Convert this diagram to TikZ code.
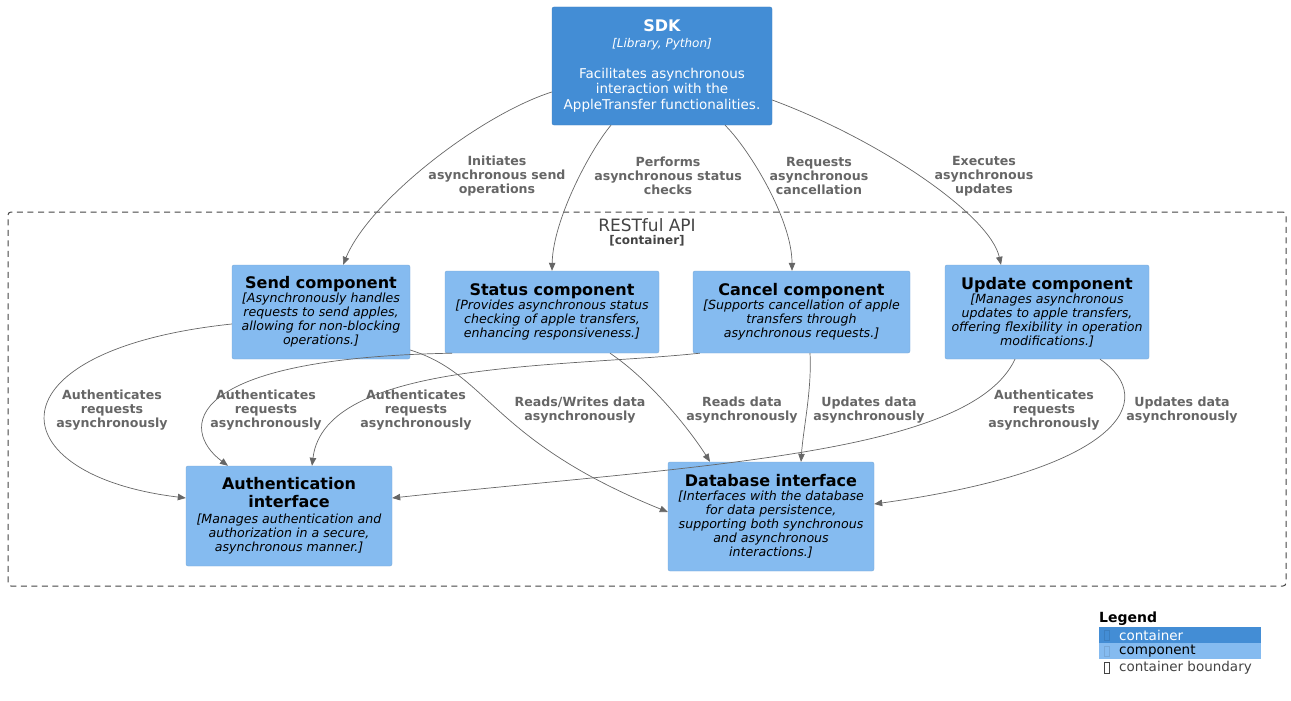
\documentclass[tikz,border=0pt]{standalone}
\usepackage{fontspec}
\setmainfont{DejaVu Sans}
\usetikzlibrary{arrows.meta,calc}
\definecolor{c4container}{HTML}{438DD5}
\definecolor{c4containerline}{HTML}{3C7FC0}
\definecolor{c4component}{HTML}{85BBF0}
\definecolor{c4componentline}{HTML}{78A8D8}
\definecolor{reledge}{HTML}{666666}
\definecolor{reltext}{HTML}{666666}
\definecolor{boundaryline}{HTML}{444444}
\tikzset{
    container/.style={rectangle, fill=c4container, draw=c4containerline, rounded corners=2pt,
        text=white, align=center, inner sep=0pt, font=\fontsize{13.5}{15.5}\selectfont},
    component/.style={rectangle, fill=c4component, draw=c4componentline, rounded corners=2pt,
        text=black, align=center, inner sep=0pt, font=\fontsize{12.6}{14}\selectfont\itshape},
    rel/.style={draw=reledge, line width=0.7pt, -{Triangle[length=8pt,width=6.5pt]}},
    rellabel/.style={text=reltext, align=center, font=\fontsize{12.6}{14}\selectfont\bfseries},
}
\newcommand{\ctitle}[1]{{\fontsize{16}{19}\selectfont\bfseries\upshape #1}}

\begin{document}
\begin{tikzpicture}[x=1pt, y=-1pt]
    \useasboundingbox (0,0) rectangle (1291,701);

    % Boundary
    \node[draw=boundaryline, dash pattern=on 6pt off 4.5pt, line width=1pt, rounded corners=3pt,
        minimum width=1278pt, minimum height=374pt, inner sep=0pt] (api) at (647,399) {};
    \node[text=boundaryline, font=\fontsize{17}{19}\selectfont] (apititle) at (647,225) {RESTful API};
    \node[text=boundaryline, font=\fontsize{12}{14}\selectfont\bfseries] (apitype) at (647,241) {[container]};

    % Container
    \node[container, minimum width=220pt, minimum height=118pt] (sdk) at (662,66) {
        \ctitle{SDK}\\
        {\fontsize{12}{14}\selectfont\itshape [Library, Python]}\\[15.5pt]
        Facilitates asynchronous\\
        interaction with the\\
        AppleTransfer functionalities.};

    % Components
    \node[component, minimum width=178pt, minimum height=94pt] (send) at (321,312) {
        \ctitle{Send component}\\
        {[}Asynchronously handles\\ requests to send apples,\\ allowing for non-blocking\\ operations.]};
    \node[component, minimum width=214pt, minimum height=82pt] (status) at (552,312) {
        \ctitle{Status component}\\
        {[}Provides asynchronous status\\ checking of apple transfers,\\ enhancing responsiveness.]};
    \node[component, minimum width=217pt, minimum height=82pt] (cancel) at (801.5,312) {
        \ctitle{Cancel component}\\
        {[}Supports cancellation of apple\\ transfers through\\ asynchronous requests.]};
    \node[component, minimum width=204pt, minimum height=94pt] (update) at (1047,312) {
        \ctitle{Update component}\\
        {[}Manages asynchronous\\ updates to apple transfers,\\ offering flexibility in operation\\ modifications.]};
    \node[component, minimum width=206pt, minimum height=100pt] (auth) at (289,516) {
        \ctitle{Authentication}\\[4pt] \ctitle{interface}\\[2pt]
        {[}Manages authentication and\\ authorization in a secure,\\ asynchronous manner.]};
    \node[component, minimum width=206pt, minimum height=109pt] (db) at (771,516.5) {
        \ctitle{Database interface}\\
        {[}Interfaces with the database\\ for data persistence,\\ supporting both synchronous\\ and asynchronous\\ interactions.]};

    % Relations from the SDK
    \draw[rel] ($(sdk.west)+(0,26)$) .. controls (480,115) and (370,200) .. ($(send.north)+(22,0)$);
    \draw[rel] ($(sdk.south)+(-51,0)$) .. controls (590,150) and (553,220) .. (status.north);
    \draw[rel] ($(sdk.south)+(63,0)$) .. controls (750,150) and (792,220) .. ($(cancel.north)+(-9.5,0)$);
    \draw[rel] ($(sdk.east)+(0,34)$) .. controls (880,140) and (990,215) .. ($(update.north)+(-46,0)$);

    \node[rellabel] (lsend) at (497,176) {Initiates\\ asynchronous send\\ operations};
    \node[rellabel] (lstatus) at (668,176) {Performs\\ asynchronous status\\ checks};
    \node[rellabel] (lcancel) at (819,176) {Requests\\ asynchronous\\ cancellation};
    \node[rellabel] (lupdate) at (984,176) {Executes\\ asynchronous\\ updates};

    % Relations inside the API
    \draw[rel] ($(send.west)+(0,12)$) .. controls (-14,350) and (-4,475) .. ($(auth.west)+(0,-18)$);
    \draw[rel] ($(send.east)+(0,38)$) .. controls (490,375) and (490,440) .. ($(db.west)+(0,-4.5)$);
    \draw[rel] ($(status.south)+(-100,0)$) .. controls (180,358) and (180,430) .. ($(auth.north)+(-61,0)$);
    \draw[rel] ($(status.south)+(58,0)$) .. controls (650,380) and (690,430) .. ($(db.north)+(-61,0)$);
    \draw[rel] ($(cancel.south west)+(7,0)$) .. controls (560,368) and (325,360) .. ($(auth.north)+(23,0)$);
    \draw[rel] ($(cancel.south)+(8.5,0)$) .. controls (812,390) and (803,430) .. ($(db.north)+(30,0)$);
    \draw[rel] ($(update.south)+(-32,0)$) .. controls (970,455) and (700,465) .. ($(auth.east)+(0,-18)$);
    \draw[rel] ($(update.south)+(53,0)$) .. controls (1160,400) and (1120,470) .. ($(db.east)+(0,-12.5)$);

    \node[rellabel] (lsendauth) at (112,410) {Authenticates\\ requests\\ asynchronously};
    \node[rellabel] (lsenddb) at (580,410) {Reads/Writes data\\ asynchronously};
    \node[rellabel] (lstatusauth) at (266,410) {Authenticates\\ requests\\ asynchronously};
    \node[rellabel] (lstatusdb) at (742,410) {Reads data\\ asynchronously};
    \node[rellabel] (lcancelauth) at (416,410) {Authenticates\\ requests\\ asynchronously};
    \node[rellabel] (lcanceldb) at (869,410) {Updates data\\ asynchronously};
    \node[rellabel] (lupdateauth) at (1044,410) {Authenticates\\ requests\\ asynchronously};
    \node[rellabel] (lupdatedb) at (1182,410) {Updates data\\ asynchronously};

    % Legend
    \node[anchor=west, inner sep=0pt, font=\fontsize{14}{16}\selectfont\bfseries] (legend) at (1099,619) {Legend};
    \node[fill=c4container, minimum width=162pt, minimum height=16pt, inner sep=0pt, anchor=north west] (lgcontainer) at (1099,627) {};
    \node[fill=c4component, minimum width=162pt, minimum height=16pt, inner sep=0pt, anchor=north west] (lgcomponent) at (1099,643) {};
    \draw[c4containerline, line width=0.6pt] (1104,630) rectangle (1109,640);
    \draw[c4componentline, line width=0.6pt] (1104,646) rectangle (1109,656);
    \draw[boundaryline, line width=0.6pt] (1104,662) rectangle (1109,673);
    \node[anchor=west, inner sep=0pt, text=white, font=\fontsize{13.5}{15}\selectfont] (lgtcontainer) at (1119,635) {container};
    \node[anchor=west, inner sep=0pt, text=black, font=\fontsize{13.5}{15}\selectfont] (lgtcomponent) at (1119,651) {component};
    \node[anchor=west, inner sep=0pt, text=boundaryline, font=\fontsize{13.5}{15}\selectfont] (lgtboundary) at (1119,668) {container boundary};
\end{tikzpicture}
\end{document}
